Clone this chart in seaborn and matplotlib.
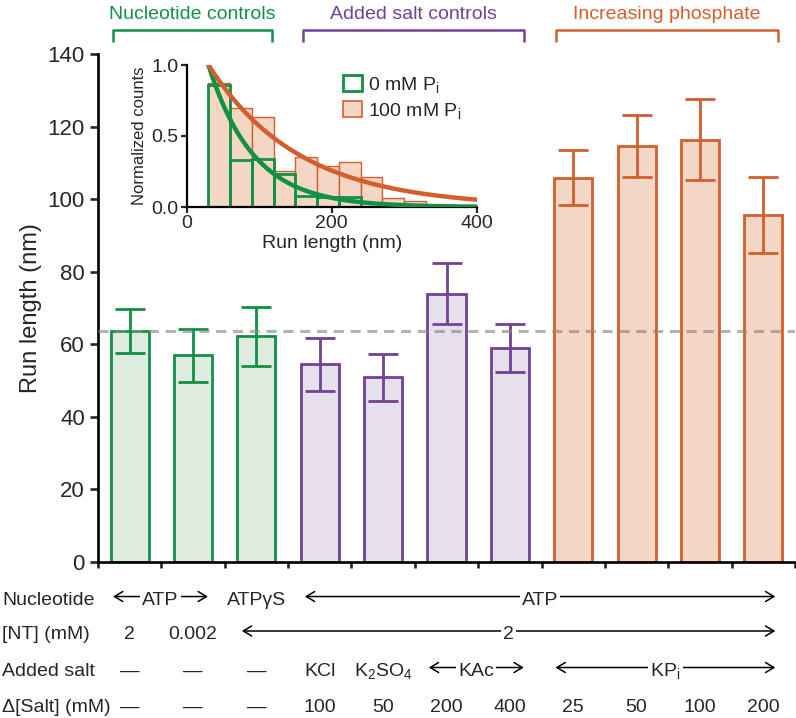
import numpy as np
import pandas as pd
import matplotlib
matplotlib.use("Agg")
import matplotlib.pyplot as plt
import matplotlib.transforms as mtransforms
from matplotlib.patches import Patch
import seaborn as sns

# ---------------- data ----------------
conditions = ["c0", "c1", "c2", "c3", "c4", "c5", "c6", "c7", "c8", "c9", "c10"]
run_length = [63.6, 56.9, 62.1, 54.4, 50.8, 73.9, 58.9, 105.9, 114.7, 116.4, 95.5]
run_err = [6.1, 7.4, 8.0, 7.4, 6.6, 8.4, 6.7, 7.5, 8.6, 11.2, 10.5]
groups = ["nt", "nt", "nt", "salt", "salt", "salt", "salt", "pi", "pi", "pi", "pi"]
reference_level = 63.6

group_titles = {"nt": "Nucleotide controls", "salt": "Added salt controls", "pi": "Increasing phosphate"}

row_labels = ["Nucleotide", "[NT] (mM)", "Added salt", "\u0394[Salt] (mM)"]
nt_conc = ["2", "0.002"]
salt_names = ["\u2014", "\u2014", "\u2014", "KCl", r"$\mathregular{K_2SO_4}$"]
delta_salt = ["\u2014", "\u2014", "\u2014", "100", "50", "200", "400", "25", "50", "100", "200"]

# inset histogram (normalized counts)
bin_edges = [30, 60, 90, 120, 150, 180, 210, 240, 270, 300, 330]
counts_0mM = [0.86, 0.33, 0.335, 0.23, 0.08, 0.07, 0.07]
counts_100mM = [0.87, 0.695, 0.631, 0.254, 0.352, 0.289, 0.315, 0.209, 0.061, 0.042]
decay_0mM = 62.0     # nm, exponential fit
decay_100mM = 125.0  # nm, exponential fit
fit_start = 30.0

# ---------------- style ----------------
GREEN, PURPLE, ORANGE = "#109146", "#734196", "#d25f2d"
FILLS = {"nt": "#ddecde", "salt": "#e6dfec", "pi": "#f3d6c3"}
EDGES = {"nt": GREEN, "salt": PURPLE, "pi": ORANGE}

sns.set_style("ticks")
plt.rcParams["font.family"] = ["Liberation Sans", "DejaVu Sans"]
plt.rcParams["mathtext.fontset"] = "custom"
plt.rcParams["mathtext.rm"] = "Liberation Sans"

W, H = 796, 718
fig = plt.figure(figsize=(W / 100, H / 100), dpi=100)
ax = fig.add_axes([98 / W, 1 - 561.7 / H, 697 / W, 507.7 / H])

df = pd.DataFrame({"cond": conditions, "len": run_length, "grp": groups})
sns.barplot(data=df, x="cond", y="len", hue="cond",
            palette=[FILLS[g] for g in groups], legend=False,
            width=0.6, errorbar=None, saturation=1, ax=ax, zorder=2)
for p, g in zip(ax.patches, groups):
    p.set_edgecolor(EDGES[g])
    p.set_linewidth(2.0)

for i, (v, e, g) in enumerate(zip(run_length, run_err, groups)):
    ax.errorbar(i, v, yerr=e, fmt="none", ecolor=EDGES[g], elinewidth=2.0,
                capsize=11, capthick=2.0, zorder=4)

ax.axhline(reference_level, color="#8a8a8a", ls=(0, (3.3, 2.2)), lw=2.2, alpha=0.65, zorder=5)

ax.set_xlim(-0.5, 10.5)
ax.set_ylim(0, 140)
ax.set_yticks(np.arange(0, 141, 20))
ax.set_xticks(np.arange(-0.5, 10.6, 1))
ax.set_xticklabels([])
ax.set_xlabel("")
ax.set_ylabel("Run length (nm)", fontsize=17)
ax.yaxis.set_label_coords(-0.080, 0.5)
ax.tick_params(axis="y", labelsize=16, width=1.9, length=5.5, direction="out", pad=4)
ax.tick_params(axis="x", width=1.9, length=4, direction="out")
for s in ["top", "right"]:
    ax.spines[s].set_visible(False)
for s in ["left", "bottom"]:
    ax.spines[s].set_linewidth(1.9)
    ax.spines[s].set_color("black")

# ---------------- group brackets ----------------
bt = mtransforms.blended_transform_factory(ax.transData, ax.transAxes)
brackets = {"nt": (-0.263, 2.244), "salt": (2.733, 6.219), "pi": (6.724, 10.225)}
for g, (x0, x1) in brackets.items():
    ax.plot([x0, x0, x1, x1], [1.0236, 1.0473, 1.0473, 1.0236], color=EDGES[g],
            lw=1.8, transform=bt, clip_on=False, solid_capstyle="butt")
    ax.text((x0 + x1) / 2, 1.068, group_titles[g], color=EDGES[g], fontsize=14,
            ha="center", va="baseline", transform=bt)

# ---------------- condition table ----------------
row_base = [-0.0853, -0.1532, -0.2251, -0.2951]
arrow_dy = 0.0167
lt = mtransforms.blended_transform_factory(fig.transFigure, ax.transAxes)
TFS = 14
for lbl, yb in zip(row_labels, row_base):
    fig.text(2 / W, yb, lbl, transform=lt, fontsize=TFS, ha="left", va="baseline")


def span(x0, x1, yb, label):
    ya = yb + arrow_dy
    ax.annotate("", xy=(x0, ya), xytext=(x1, ya), xycoords=bt, textcoords=bt,
                annotation_clip=False,
                arrowprops=dict(arrowstyle="<->,head_length=0.5,head_width=0.3",
                                lw=1.1, color="black", shrinkA=0, shrinkB=0,
                                mutation_scale=12))
    ax.text((x0 + x1) / 2, yb, label, transform=bt, fontsize=TFS, ha="center",
            va="baseline", bbox=dict(fc="white", ec="none", pad=1.5), zorder=6)


def cell(x, yb, label):
    ax.text(x, yb, label, transform=bt, fontsize=TFS, ha="center", va="baseline")


# row 1: nucleotide
span(-0.263, 1.235, row_base[0], "ATP")
cell(2, row_base[0], "ATP\u03b3S")
span(2.765, 10.19, row_base[0], "ATP")
# row 2: [NT]
for i, t in enumerate(nt_conc):
    cell(i, row_base[1], t)
span(1.77, 10.19, row_base[1], "2")
# row 3: added salt
for i, t in enumerate(salt_names):
    cell(i, row_base[2], t)
span(4.72, 6.22, row_base[2], "KAc")
span(6.72, 10.19, row_base[2], r"$\mathregular{KP_i}$")
# row 4: delta salt
for i, t in enumerate(delta_salt):
    cell(i, row_base[3], t)

# ---------------- inset ----------------
ax_in = fig.add_axes([186.7 / W, 1 - 207 / H, 290 / W, 142 / H])
centers_100 = [(bin_edges[k] + bin_edges[k + 1]) / 2 for k in range(len(counts_100mM))]
centers_0 = [(bin_edges[k] + bin_edges[k + 1]) / 2 for k in range(len(counts_0mM))]
sns.histplot(x=centers_100, weights=counts_100mM, bins=bin_edges, ax=ax_in,
             color=FILLS["pi"], edgecolor=ORANGE, linewidth=1.0, alpha=1, zorder=1)
sns.histplot(x=centers_0, weights=counts_0mM, bins=bin_edges[:len(counts_0mM) + 1], ax=ax_in,
             fill=False, color=GREEN, linewidth=2.0, zorder=2)
for p in ax_in.patches[len(counts_100mM):]:
    p.set_edgecolor(GREEN)
    p.set_facecolor("none")
    p.set_linewidth(2.0)

xfit = np.linspace(fit_start, 400, 200)
sns.lineplot(x=xfit, y=np.exp(-(xfit - fit_start) / decay_0mM), color=GREEN, lw=3.2, ax=ax_in, zorder=3)
sns.lineplot(x=xfit, y=np.exp(-(xfit - fit_start) / decay_100mM), color=ORANGE, lw=3.2, ax=ax_in, zorder=3)

ax_in.set_xlim(0, 400)
ax_in.set_ylim(0, 1.0)
ax_in.set_xticks([0, 200, 400])
ax_in.set_yticks([0, 0.5, 1.0])
ax_in.set_yticklabels(["0.0", "0.5", "1.0"])
ax_in.set_xlabel("Run length (nm)", fontsize=14, labelpad=2)
ax_in.set_ylabel("Normalized counts", fontsize=12, labelpad=3)
ax_in.tick_params(labelsize=14, width=1.6, length=4, direction="out", pad=2)
for s in ["top", "right"]:
    ax_in.spines[s].set_visible(False)
for s in ["left", "bottom"]:
    ax_in.spines[s].set_linewidth(1.6)
    ax_in.spines[s].set_color("black")
ax_in.patch.set_alpha(0)

handles = [Patch(facecolor="white", edgecolor=GREEN, linewidth=2.0),
           Patch(facecolor=FILLS["pi"], edgecolor=ORANGE, linewidth=1.2)]
ax_in.legend(handles, [r"0 mM $\mathregular{P_i}$", r"100 mM $\mathregular{P_i}$"],
             loc="upper left", bbox_to_anchor=(0.539, 0.93), frameon=False,
             fontsize=14, handlelength=1.0, handleheight=0.9, handletextpad=0.3,
             labelspacing=0.3, borderpad=0, borderaxespad=0)

fig.savefig("out.png", dpi=100)
